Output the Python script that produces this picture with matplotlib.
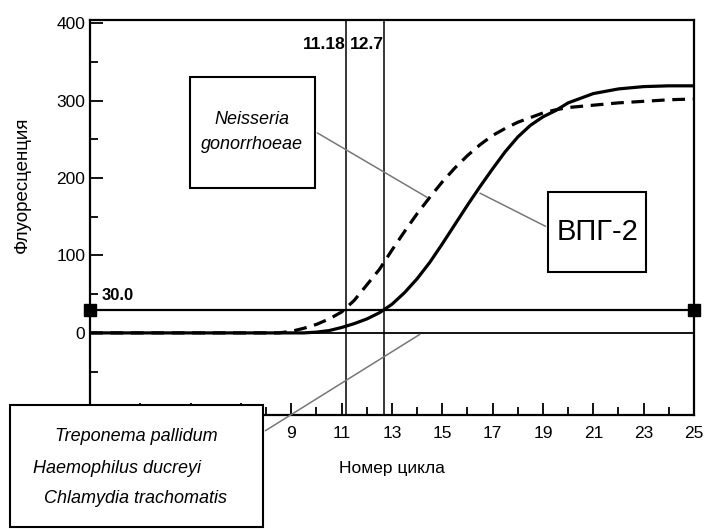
import matplotlib
matplotlib.use("Agg")
import matplotlib.pyplot as plt
from matplotlib.patches import Rectangle

plt.rcParams['font.family'] = ['Liberation Sans Narrow', 'Liberation Sans', 'DejaVu Sans']

# данные
cycles = [1, 2, 3, 4, 5, 6, 7, 8, 8.5, 9, 9.5, 10, 10.5, 11, 11.5, 12, 12.5, 13,
          13.5, 14, 14.5, 15, 15.5, 16, 16.5, 17, 17.5, 18, 18.5, 19, 19.5, 20,
          21, 22, 23, 24, 25]
hsv2 = [0, 0, 0, 0, 0, 0, 0, 0, 0, 0, 0, 1, 3, 7, 12, 18, 26, 37,
        52, 70, 91, 115, 140, 165, 189, 212, 234, 253, 268, 279, 287, 297,
        309, 315, 318, 319, 319]
neisseria = [0, 0, 0, 0, 0, 0, 0, 0, 0, 2, 6, 11, 18, 27, 42, 62, 82, 107,
             131, 154, 175, 195, 213, 229, 243, 255, 264, 272, 278, 284, 288, 291,
             294, 297, 299, 301, 302]

threshold = 30.0
ct_values = [11.18, 12.7]
ct_labels = ['11.18', '12.7']
xticks = [1, 3, 5, 7, 9, 11, 13, 15, 17, 19, 21, 23, 25]
# подписи 1-7 закрыты рамкой
xtick_labels = ['', '', '', '', '9', '11', '13', '15', '17', '19', '21', '23', '25']
yticks = [-100, 0, 100, 200, 300, 400]

fig = plt.figure(figsize=(7.07, 5.29), dpi=100)
ax = fig.add_axes([0.1273, 0.2155, 0.8543, 0.7467])

ax.plot(cycles, hsv2, color='black', lw=2.3, zorder=4)
ax.plot(cycles, neisseria, color='black', lw=2.3, dashes=(4, 2.4), zorder=4)

# базовая линия и порог
ax.axhline(0, color='black', lw=1.3, zorder=2)
ax.plot([1, 25], [threshold, threshold], color='black', lw=1.6,
        marker='s', markersize=8, clip_on=False, zorder=5)
ax.text(1.45, threshold + 8, '30.0', fontsize=12, fontweight='bold', va='bottom')

for ct, lab in zip(ct_values, ct_labels):
    ax.axvline(ct, color='black', lw=1.1, zorder=3)
    ax.text(ct - 0.02, 372, lab, fontsize=12.5, fontweight='bold', ha='right', va='center')

ax.set_xlim(1, 25)
ax.set_ylim(-106, 404)
ax.set_xticks(xticks)
ax.set_xticklabels(xtick_labels)
ax.set_xticks(range(1, 26), minor=True)
ax.set_yticks(yticks)
ax.set_yticks([-50, 50, 150, 250, 350], minor=True)
ax.tick_params(which='both', direction='in', labelsize=12.5, width=1.3,
               top=False, right=False)
ax.tick_params(which='major', length=9)
ax.tick_params(which='minor', length=6)
ax.tick_params(axis='x', pad=8)
for s in ax.spines.values():
    s.set_linewidth(1.6)

fig.text(0.031, 0.65, 'Флуоресценция', rotation=90, fontsize=13.5, ha='center', va='center')
ax.set_xlabel('Номер цикла', fontsize=12.5, labelpad=14)

# подписи кривых
ax.add_patch(Rectangle((4.97, 187), 4.97, 144, fill=True, facecolor='white',
                       edgecolor='black', lw=1.5, zorder=6))
ax.text(7.45, 259, 'Neisseria\ngonorrhoeae', fontsize=13, style='italic',
        ha='center', va='center', linespacing=1.6, zorder=7)
ax.annotate('', xy=(14.5, 173), xytext=(9.94, 260),
            arrowprops=dict(arrowstyle='-', color='#777777', lw=1.1), zorder=5)

ax.add_patch(Rectangle((19.2, 79), 3.9, 103, fill=True, facecolor='white',
                       edgecolor='black', lw=1.5, zorder=6))
ax.text(21.15, 130, 'ВПГ-2', fontsize=21, ha='center', va='center', zorder=7)
ax.annotate('', xy=(16.4, 182), xytext=(19.2, 136),
            arrowprops=dict(arrowstyle='-', color='#777777', lw=1.1), zorder=5)

# рамка с прочими возбудителями
fig.patches.append(Rectangle((0.0141, 0.003), 0.358, 0.231, transform=fig.transFigure,
                             facecolor='white', edgecolor='black', lw=1.5, zorder=10))
fig.text(0.193, 0.174, 'Treponema pallidum', fontsize=13, style='italic', ha='center', va='center', zorder=11)
fig.text(0.166, 0.115, 'Haemophilus ducreyi', fontsize=13, style='italic', ha='center', va='center', zorder=11)
fig.text(0.191, 0.058, 'Chlamydia trachomatis', fontsize=13, style='italic', ha='center', va='center', zorder=11)
ax.annotate('', xy=(14.2, 0), xycoords='data',
            xytext=(0.372, 0.183), textcoords='figure fraction',
            arrowprops=dict(arrowstyle='-', color='#777777', lw=1.1),
            annotation_clip=False, zorder=9)

fig.savefig('out.png', dpi=100)
